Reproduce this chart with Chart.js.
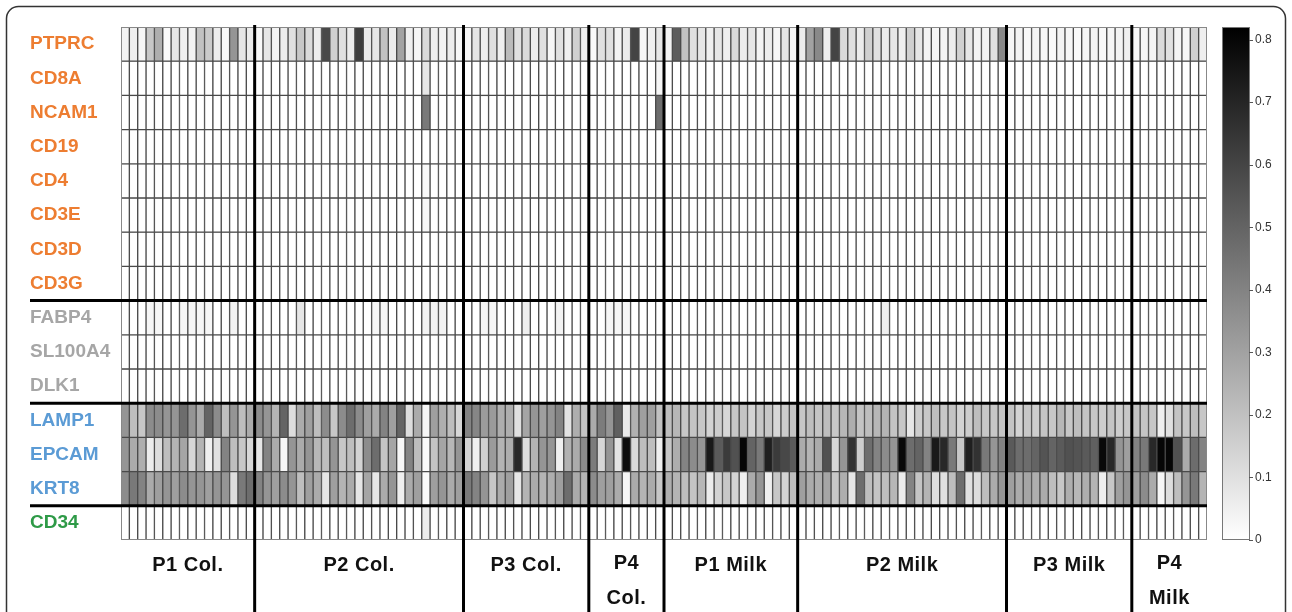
<!DOCTYPE html>
<html><head><meta charset="utf-8">
<script src="https://cdn.jsdelivr.net/npm/chart.js@4.4.1/dist/chart.umd.min.js"></script>
<style>html,body{margin:0;padding:0;background:#fff}#wrap{width:1292px;height:612px}</style>
</head><body><div id="wrap"><canvas id="c" width="1292" height="612"></canvas></div>
<script>
// ---------- DATA ----------
const genes = ['PTPRC','CD8A','NCAM1','CD19','CD4','CD3E','CD3D','CD3G','FABP4','SL100A4','DLK1','LAMP1','EPCAM','KRT8','CD34'];
const groups = ['P1 Col.','P2 Col.','P3 Col.','P4 Col.','P1 Milk','P2 Milk','P3 Milk','P4 Milk'];
const groupSizes = [16,25,15,9,16,25,15,9];
const colorbarTicks = [0,0.1,0.2,0.3,0.4,0.5,0.6,0.7,0.8];

const PTPRC = [
 0.04,0.05,0.03,0.18,0.26,0.02,0.08,0.05,0.04,0.20,0.17,0.06,0.02,0.34,0.08,0.06,
 0.02,0.08,0.04,0.06,0.10,0.18,0.12,0.06,0.59,0.15,0.10,0.06,0.62,0.06,0.08,0.20,0.06,0.30,0.05,0.03,0.12,0.05,0.04,0.06,0.03,
 0.03,0.08,0.05,0.10,0.05,0.22,0.10,0.12,0.06,0.10,0.03,0.10,0.05,0.15,0.05,
 0.02,0.10,0.10,0.04,0.06,0.60,0.03,0.05,0.08,
 0.04,0.52,0.20,0.10,0.08,0.05,0.08,0.05,0.12,0.06,0.08,0.04,0.06,0.03,0.08,0.04,
 0.06,0.30,0.38,0.05,0.60,0.12,0.10,0.06,0.15,0.10,0.06,0.08,0.05,0.15,0.08,0.04,0.03,0.04,0.06,0.15,0.08,0.04,0.04,0.10,0.38,
 0.03,0.04,0.02,0.04,0.03,0.02,0.04,0.03,0.02,0.03,0.04,0.02,0.03,0.04,0.05,
 0.02,0.03,0.04,0.12,0.10,0.04,0.03,0.15,0.05];
const CD8A = [
 0,0,0,0,0,0,0,0,0,0,0,0,0,0,0,0,
 0,0,0,0,0,0,0,0,0,0,0,0,0,0,0,0,0,0,0,0,0.08,0,0,0,0,
 0,0,0,0,0,0,0,0,0,0,0,0,0,0,0,
 0,0,0,0,0,0,0,0,0.03,
 0,0,0,0,0,0,0,0,0,0,0,0,0,0,0,0,
 0,0,0,0,0,0,0,0,0,0,0,0,0,0,0,0,0,0,0,0,0,0,0,0,0,
 0,0,0,0,0,0,0,0,0,0,0,0,0,0,0,
 0,0,0,0,0,0,0,0,0];
const NCAM1 = [
 0,0,0,0,0,0,0,0,0,0,0,0,0,0,0,0,
 0,0,0,0,0,0,0,0,0,0,0,0,0,0,0,0,0,0,0,0,0.43,0,0,0,0,
 0,0,0,0,0,0,0,0,0,0,0,0,0,0,0,
 0,0,0,0,0,0,0,0,0.47,
 0,0,0,0,0,0,0,0,0,0,0,0,0,0,0,0,
 0,0,0,0,0,0,0,0,0,0,0,0,0,0,0,0,0,0,0,0,0,0,0,0,0,
 0,0,0,0,0,0,0,0,0,0,0,0,0,0,0,
 0,0,0,0,0,0,0,0,0];
const CD19 = [
 0,0,0,0,0,0,0,0,0,0,0,0,0,0,0,0,
 0,0,0,0,0,0,0,0,0,0,0,0,0,0,0,0,0,0,0,0,0,0,0,0,0,
 0,0,0,0,0,0,0,0,0,0,0,0,0,0,0,
 0,0,0,0,0,0,0,0,0,
 0,0,0,0,0,0,0,0,0,0,0,0,0,0,0,0,
 0,0,0,0,0,0,0,0,0,0,0,0,0,0,0,0,0,0,0,0,0,0,0,0,0,
 0,0,0,0,0,0,0,0,0,0,0,0,0,0,0,
 0,0,0,0,0,0,0,0,0];
const CD4 = [
 0,0,0,0,0,0,0,0,0,0,0,0,0,0,0,0,
 0,0,0,0,0,0,0,0,0,0,0,0,0,0,0,0,0,0,0,0,0.02,0,0,0,0,
 0,0,0,0,0,0,0,0,0,0,0,0,0,0,0,
 0,0,0,0,0,0,0,0,0,
 0,0,0,0,0,0,0,0,0,0,0,0,0,0,0,0,
 0,0,0,0,0,0,0,0,0,0,0,0,0,0,0,0,0,0,0,0,0,0,0,0,0,
 0,0,0,0,0,0,0,0,0,0,0,0,0,0,0,
 0,0,0,0,0,0,0,0,0];
const CD3E = [
 0,0,0,0,0,0,0,0,0,0,0,0,0,0,0,0,
 0,0,0,0,0,0,0,0,0,0,0,0,0,0,0,0,0,0,0,0,0.03,0,0,0,0,
 0,0,0,0,0,0,0,0,0,0,0,0,0,0,0,
 0,0,0,0,0,0,0,0,0,
 0,0,0,0,0,0,0,0,0,0,0,0,0,0,0,0,
 0,0,0,0,0,0,0,0,0,0,0,0,0,0,0,0,0,0,0,0,0,0,0,0,0,
 0,0,0,0,0,0,0,0,0,0,0,0,0,0,0,
 0,0,0,0,0,0,0,0,0];
const CD3D = [
 0,0,0,0,0,0,0,0,0,0,0,0,0,0,0,0,
 0,0,0,0,0,0,0,0,0,0,0,0,0,0,0,0,0,0,0,0,0,0,0,0,0,
 0,0,0,0,0,0,0,0,0,0,0,0,0,0,0,
 0,0,0,0,0,0,0,0,0,
 0,0,0,0,0,0,0,0,0,0,0,0,0,0,0,0,
 0,0,0,0,0,0,0,0,0,0,0,0,0,0,0,0,0,0,0,0,0,0,0,0,0,
 0,0,0,0,0,0,0,0,0,0,0,0,0,0,0,
 0,0,0,0,0,0,0,0,0];
const CD3G = [
 0,0,0,0,0,0,0,0,0,0,0,0,0,0,0,0,
 0,0,0,0,0,0,0,0,0,0,0,0,0,0,0,0,0,0,0,0,0,0,0,0,0,
 0,0,0,0,0,0,0,0,0,0,0,0,0,0,0,
 0,0,0,0,0,0,0,0,0,
 0,0,0,0,0,0,0,0,0,0,0,0,0,0,0,0,
 0,0,0,0,0,0,0,0,0,0,0,0,0,0,0,0,0,0,0,0,0,0,0,0,0,
 0,0,0,0,0,0,0,0,0,0,0,0,0,0,0,
 0,0,0,0,0,0,0,0,0];
const FABP4 = [
 0,0,0,0.03,0.03,0,0,0.03,0.03,0.03,0.03,0,0,0.04,0,0,
 0,0,0,0,0,0.08,0,0,0,0,0,0,0,0,0.03,0.03,0,0,0,0,0.04,0.04,0.04,0,0,
 0,0,0.03,0.03,0,0,0,0.05,0,0,0,0.04,0,0,0,
 0,0,0.03,0.03,0.03,0,0,0,0,
 0,0,0,0,0,0,0,0,0,0,0,0,0,0,0,0,
 0,0,0,0,0,0,0,0,0,0,0.05,0,0,0,0,0,0,0,0,0,0,0,0,0,0,
 0,0,0,0,0,0,0,0,0,0,0,0,0,0,0,
 0,0,0,0,0,0,0,0,0];
const SL100A4 = [
 0,0,0,0,0,0,0,0,0,0,0,0,0,0,0,0,
 0,0,0,0,0,0,0,0,0,0,0,0,0,0,0,0,0,0,0,0,0,0,0,0,0,
 0,0,0,0,0,0,0,0,0,0,0,0,0,0,0,
 0,0,0,0,0,0,0,0,0,
 0,0,0,0,0,0,0,0,0,0,0,0,0,0,0,0,
 0,0,0,0,0,0,0,0,0,0,0,0,0,0,0,0,0,0,0,0,0,0,0,0,0,
 0,0,0,0,0,0,0,0,0,0,0,0,0,0,0,
 0,0,0,0,0,0,0,0,0];
const DLK1 = [
 0,0,0,0,0,0,0,0,0,0,0,0,0,0,0,0,
 0,0,0,0,0,0,0,0,0,0,0,0,0,0,0,0,0,0,0,0,0,0,0,0,0,
 0,0,0,0,0,0,0,0,0,0,0,0,0,0,0,
 0,0,0,0,0,0,0,0,0,
 0,0,0,0,0,0,0,0,0,0,0,0,0,0,0,0,
 0,0,0,0,0,0,0,0,0,0,0,0,0,0,0,0,0,0,0,0,0,0,0,0,0,
 0,0,0,0,0,0,0,0,0,0,0,0,0,0,0,
 0,0,0,0,0,0,0,0,0];
const LAMP1 = [
 0.34,0.21,0.18,0.37,0.37,0.34,0.34,0.47,0.34,0.27,0.50,0.37,0.21,0.34,0.21,0.27,
 0.37,0.34,0.24,0.50,0.11,0.27,0.31,0.21,0.37,0.18,0.37,0.47,0.37,0.31,0.27,0.40,0.31,0.50,0.11,0.27,0.03,0.31,0.26,0.21,0.13,
 0.40,0.39,0.32,0.32,0.26,0.26,0.10,0.29,0.34,0.31,0.34,0.40,0.09,0.26,0.19,
 0.27,0.42,0.34,0.51,0.07,0.25,0.31,0.31,0.20,
 0.21,0.23,0.18,0.19,0.18,0.14,0.16,0.13,0.18,0.19,0.14,0.18,0.18,0.13,0.16,0.19,
 0.18,0.21,0.19,0.21,0.18,0.23,0.26,0.19,0.21,0.23,0.24,0.19,0.18,0.08,0.16,0.18,0.21,0.18,0.19,0.14,0.16,0.21,0.18,0.18,0.19,
 0.19,0.14,0.18,0.16,0.19,0.18,0.23,0.18,0.21,0.19,0.18,0.16,0.19,0.16,0.18,
 0.19,0.19,0.18,0.05,0.10,0.19,0.18,0.21,0.18];
const EPCAM = [
 0.34,0.27,0.26,0.06,0.11,0.21,0.24,0.29,0.13,0.24,0.05,0.10,0.40,0.21,0.18,0.13,
 0.08,0.40,0.27,0.03,0.34,0.27,0.34,0.23,0.21,0.34,0.18,0.21,0.14,0.37,0.47,0.19,0.29,0.03,0.40,0.21,0.02,0.19,0.29,0.23,0.34,
 0.14,0.05,0.15,0.32,0.24,0.26,0.69,0.11,0.24,0.34,0.34,0.05,0.25,0.27,0.37,
 0.42,0.13,0.34,0.09,0.78,0.12,0.21,0.21,0.05,
 0.18,0.26,0.40,0.37,0.34,0.74,0.53,0.63,0.56,0.80,0.50,0.43,0.72,0.63,0.59,0.53,
 0.27,0.24,0.27,0.56,0.13,0.34,0.66,0.16,0.47,0.40,0.37,0.34,0.79,0.47,0.50,0.40,0.74,0.69,0.43,0.18,0.72,0.66,0.43,0.34,0.40,
 0.53,0.47,0.47,0.50,0.55,0.50,0.53,0.56,0.55,0.53,0.51,0.79,0.69,0.34,0.31,
 0.40,0.43,0.69,0.80,0.80,0.56,0.27,0.47,0.40];
const KRT8 = [
 0.37,0.43,0.40,0.27,0.31,0.34,0.31,0.37,0.34,0.34,0.31,0.34,0.34,0.11,0.43,0.47,
 0.40,0.34,0.31,0.37,0.34,0.21,0.31,0.27,0.08,0.31,0.24,0.27,0.08,0.29,0.08,0.27,0.34,0.05,0.27,0.31,0.02,0.31,0.34,0.27,0.31,
 0.43,0.40,0.34,0.18,0.27,0.31,0.08,0.24,0.27,0.24,0.26,0.31,0.47,0.27,0.24,
 0.37,0.31,0.31,0.27,0.03,0.27,0.24,0.27,0.18,
 0.26,0.24,0.21,0.19,0.23,0.06,0.14,0.18,0.14,0.05,0.27,0.34,0.05,0.18,0.14,0.21,
 0.31,0.27,0.26,0.29,0.18,0.26,0.08,0.47,0.21,0.19,0.21,0.23,0.06,0.40,0.19,0.24,0.11,0.10,0.21,0.47,0.10,0.11,0.21,0.27,0.34,
 0.31,0.27,0.29,0.26,0.27,0.21,0.18,0.26,0.23,0.26,0.24,0.05,0.18,0.31,0.34,
 0.31,0.37,0.27,0.03,0.11,0.21,0.34,0.43,0.24];
const CD34 = [
 0,0,0,0,0,0,0,0,0,0,0,0,0,0,0,0,
 0,0,0,0,0,0,0,0,0,0,0,0,0,0,0,0,0,0,0,0,0.06,0,0,0,0,
 0,0,0,0,0,0,0,0,0,0,0,0,0,0,0,
 0,0,0,0,0,0,0,0,0,
 0,0,0,0,0,0,0,0,0,0,0,0,0,0,0,0,
 0,0,0,0,0,0,0,0,0,0,0,0,0,0,0,0,0,0,0,0,0,0,0,0,0,
 0,0,0,0,0,0,0,0,0,0,0,0,0,0,0,
 0,0,0,0,0,0,0,0,0];

const geneValues = [PTPRC,CD8A,NCAM1,CD19,CD4,CD3E,CD3D,CD3G,FABP4,SL100A4,DLK1,LAMP1,EPCAM,KRT8,CD34];

// ---------- STYLE ----------
const ORANGE='#ED7D31', GREY='#A6A6A6', BLUE='#5B9BD5', GREEN='#2E9A47';
const geneColors = [ORANGE,ORANGE,ORANGE,ORANGE,ORANGE,ORANGE,ORANGE,ORANGE,GREY,GREY,GREY,BLUE,BLUE,BLUE,GREEN];
const separatorRows = [8,11,14];
const VMAX = 0.82;
const FONT = '"Liberation Sans", Arial, sans-serif';

const totalCols = groupSizes.reduce((a,b)=>a+b,0);
geneValues.forEach((arr,i)=>{ if(arr.length!==totalCols) throw new Error(genes[i]+' has '+arr.length+' values'); });

const colLabels = [];
groups.forEach((g,gi)=>{ for(let k=0;k<groupSizes[gi];k++) colLabels.push(g+' '+(k+1)); });

function grayFor(v){
  const t = Math.max(0, Math.min(1, v/VMAX));
  const g = Math.round(255*(1-t));
  return 'rgb('+g+','+g+','+g+')';
}

const datasets = genes.map((g,r)=>({
  label: g,
  data: geneValues[r].map((v,c)=>({x: colLabels[c], y: [r, r+1], v: v})),
  backgroundColor: ctx => grayFor(ctx.raw ? ctx.raw.v : 0),
  borderColor: '#4a4a4a',
  borderWidth: 1,
  borderSkipped: false,
  grouped: false,
  categoryPercentage: 1,
  barPercentage: 1
}));

const overlay = {
  id: 'overlay',
  beforeDraw(chart){
    const c = chart.ctx;
    c.save();
    c.fillStyle='#fff'; c.fillRect(0,0,chart.width,chart.height);
    c.strokeStyle='#333'; c.lineWidth=1.5;
    const x0=6.5,y0=6.5,w=1279,h=660,r=12;
    c.beginPath();
    c.moveTo(x0+r,y0); c.lineTo(x0+w-r,y0); c.arcTo(x0+w,y0,x0+w,y0+r,r);
    c.lineTo(x0+w,y0+h); c.moveTo(x0,y0+h); c.lineTo(x0,y0+r); c.arcTo(x0,y0,x0+r,y0,r);
    c.stroke();
    c.restore();
  },
  afterDatasetsDraw(chart){
    const c = chart.ctx, a = chart.chartArea, xs = chart.scales.x, ys = chart.scales.y, cb = chart.scales.cb;
    c.save();
    c.strokeStyle='#888'; c.lineWidth=1;
    c.strokeRect(a.left+0.5,a.top+0.5,a.right-a.left-1,a.bottom-a.top-1);
    c.strokeStyle='#000'; c.lineWidth=3;
    separatorRows.forEach(rw=>{
      const py = ys.getPixelForValue(rw);
      c.beginPath(); c.moveTo(30,py); c.lineTo(a.right,py); c.stroke();
    });
    const step = xs.getPixelForValue(1)-xs.getPixelForValue(0);
    let idx=0;
    const bounds=[];
    groupSizes.forEach((n,gi)=>{
      const left = xs.getPixelForValue(idx) - step/2;
      idx += n;
      const right = xs.getPixelForValue(idx-1) + step/2;
      bounds.push([left,right]);
      if(gi<groupSizes.length-1){
        c.beginPath(); c.moveTo(right,a.top-2); c.lineTo(right,chart.height); c.stroke();
      }
    });
    // group labels
    c.fillStyle='#111';
    c.font='bold 20px '+FONT;
    if ('letterSpacing' in c) c.letterSpacing='0.5px';
    c.textAlign='center'; c.textBaseline='middle';
    groups.forEach((g,gi)=>{
      const cx=(bounds[gi][0]+bounds[gi][1])/2;
      const w = bounds[gi][1]-bounds[gi][0];
      if(w<90){
        const parts=g.split(' ');
        c.fillText(parts[0],cx,563);
        c.fillText(parts.slice(1).join(' '),cx,598);
      } else c.fillText(g,cx,565);
    });
    if ('letterSpacing' in c) c.letterSpacing='0px';
    // colour bar
    const bx = cb.left+15, bw = 28;
    const yTop = cb.getPixelForValue(VMAX), yBot = cb.getPixelForValue(0);
    const grad = c.createLinearGradient(0,yBot,0,yTop);
    grad.addColorStop(0,'#fff'); grad.addColorStop(1,'#000');
    c.fillStyle=grad; c.fillRect(bx,yTop,bw,yBot-yTop);
    c.strokeStyle='#777'; c.lineWidth=1;
    c.strokeRect(bx+0.5,yTop+0.5,bw-1,yBot-yTop-1);
    c.strokeStyle='#555';
    colorbarTicks.forEach(t=>{
      const py=Math.round(cb.getPixelForValue(t))+0.5;
      c.beginPath(); c.moveTo(bx+bw-1,py); c.lineTo(bx+bw+3,py); c.stroke();
    });
    c.restore();
  }
};

new Chart(document.getElementById('c'), {
  type: 'bar',
  data: { labels: colLabels, datasets },
  options: {
    responsive: false,
    animation: false,
    devicePixelRatio: 1,
    layout: { padding: { left: 30, top: 27, right: 0, bottom: 72 } },
    plugins: { legend: { display: false }, tooltip: { enabled: false } },
    scales: {
      x: { type: 'category', display: false, offset: true, grid: { display: false } },
      y: {
        type: 'linear', position: 'left', min: 0, max: genes.length, reverse: true,
        afterBuildTicks: s => { s.ticks = genes.map((g,i)=>({value: i+0.5})); },
        afterFit: s => { s.width = 91; },
        grid: { display: false, drawTicks: false }, border: { display: false },
        ticks: {
          autoSkip: false, crossAlign: 'far', padding: 0,
          callback: (v,i) => genes[i],
          color: ctx => geneColors[ctx.index],
          font: { family: FONT, weight: 'bold', size: 19 }
        }
      },
      cb: {
        type: 'linear', position: 'right', min: 0, max: VMAX,
        afterBuildTicks: s => { s.ticks = colorbarTicks.map(v=>({value:v})); },
        afterFit: s => { s.width = 85; },
        grid: { display: true, drawOnChartArea: false, drawTicks: true, tickLength: 44, color: 'rgba(0,0,0,0)' },
        border: { display: false },
        ticks: {
          padding: 4, color: '#333',
          callback: v => v===0 ? '0' : v.toFixed(1),
          font: { family: FONT, size: 12 }
        }
      }
    }
  },
  plugins: [overlay]
});
</script></body></html>
